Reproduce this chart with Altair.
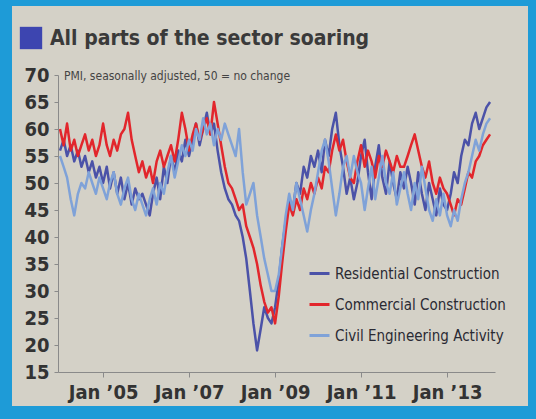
import altair as alt
import pandas as pd

# ---- data (monthly PMI readings, Jan 2004 – Jan 2014) ----
start_month = "2004-01-01"
n_months = 121

residential = [
    56, 58, 55, 57, 54, 56, 53, 55, 52, 54, 51, 53,
    50, 53, 49, 52, 48, 51, 47, 50, 46, 49, 47, 48,
    46, 44, 48, 51, 47, 53, 50, 55, 52, 56, 54, 58,
    55, 58, 61, 57, 60, 63, 59, 61, 56, 52, 49, 47,
    46, 44, 43, 40, 36, 30, 24, 19, 23, 27, 25, 24,
    27, 32, 38, 43, 47, 45, 50, 48, 53, 51, 55, 53,
    56, 52, 58, 55, 60, 63, 57, 53, 48, 51, 47, 50,
    55, 58, 52, 47, 53, 57, 51, 48, 54, 50, 47, 52,
    49, 53, 50, 46, 52, 48, 45, 50, 47, 44, 49, 46,
    45, 48, 52, 50, 55, 58, 57, 61, 63, 60, 62, 64,
    65,
]
commercial = [
    60, 57, 61, 56, 58, 55, 57, 59, 56, 58, 55, 57,
    61, 57, 55, 58, 56, 59, 60, 63, 58, 55, 52, 54,
    51, 53, 50, 54, 56, 53, 55, 57, 54, 58, 63, 60,
    56, 59, 61, 58, 60, 62, 59, 65, 61, 57, 53, 50,
    49, 47, 45, 46, 42, 40, 38, 35, 31, 28, 26, 27,
    24, 29, 35, 41, 46, 44, 47, 45, 49, 47, 50, 48,
    51, 49, 53, 52, 56, 59, 56, 58, 54, 51, 50, 54,
    57, 53, 56, 54, 51, 55, 53, 56, 54, 52, 55, 53,
    53, 55, 57, 59, 56, 53, 51, 54, 50, 48, 51, 49,
    48, 46, 44, 47, 46, 49, 52, 51, 54, 55, 57, 58,
    59,
]
civil = [
    55, 53, 51, 47, 44, 48, 50, 49, 52, 50, 48, 51,
    49, 47, 50, 52, 48, 46, 49, 51, 47, 45, 48, 46,
    44, 47, 49, 46, 50, 48, 52, 55, 51, 54, 57, 55,
    58, 56, 60, 58, 62, 59, 61, 57, 60, 58, 61, 59,
    57, 55, 60, 52, 46, 48, 50, 44, 40, 36, 33, 30,
    30, 33, 38, 44, 48, 45, 50, 47, 44, 41, 45, 48,
    52, 56, 58, 54, 49, 44, 48, 53, 55, 51, 55, 52,
    50, 45, 49, 53, 47, 51, 55, 50, 48, 52, 46, 49,
    52, 48, 45, 50, 47, 53, 49, 45, 43, 47, 44, 48,
    44, 42, 45, 43, 47, 50, 52, 55, 58, 56, 59, 61,
    62,
]

series_names = ["Residential Construction", "Commercial Construction", "Civil Engineering Activity"]
series_colors = ["#4b52a8", "#e2262c", "#7fa2d8"]
y_ticks = [15, 20, 25, 30, 35, 40, 45, 50, 55, 60, 65, 70]
x_tick_years = [2005, 2007, 2009, 2011, 2013]
title_text = "All parts of the sector soaring"
subtitle_text = "PMI, seasonally adjusted, 50 = no change"

# ---- build table ----
months = pd.date_range(start_month, periods=n_months, freq="MS")
df = pd.DataFrame({
    "date": list(months) * 3,
    "value": residential + commercial + civil,
    "series": [series_names[0]] * n_months + [series_names[1]] * n_months + [series_names[2]] * n_months,
})

NARROW = "Liberation Sans Narrow, DejaVu Sans Condensed, Liberation Sans, sans-serif"
W, H = 437, 297
one = alt.Data(values=[{}])

x_scale = alt.Scale(domain=[alt.DateTime(year=2003, month=12, date=15),
                            alt.DateTime(year=2014, month=2, date=12)])

lines = alt.Chart(df).mark_line(strokeWidth=2.5, strokeJoin="round").encode(
    x=alt.X("date:T", scale=x_scale,
            axis=alt.Axis(values=[alt.DateTime(year=y, month=1, date=1) for y in x_tick_years],
                          format="Jan \u2019%y", title=None, grid=False, zindex=1,
                          labelFont=NARROW, labelFontWeight="bold", labelFontSize=20,
                          labelColor="#333333", tickSize=5, tickColor="#8a8a8a",
                          domainColor="#8a8a8a", labelPadding=5, labelFlush=False,
                          labelOverlap=False)),
    y=alt.Y("value:Q", scale=alt.Scale(domain=[15, 70], nice=False, zero=False),
            axis=alt.Axis(values=y_ticks, title=None, grid=False, zindex=1,
                          labelFont=NARROW, labelFontWeight="bold", labelFontSize=20,
                          labelColor="#333333", tickSize=4, tickColor="#8a8a8a",
                          domainColor="#8a8a8a", labelPadding=5, labelFlush=False,
                          labelOverlap=False)),
    color=alt.Color("series:N",
                    scale=alt.Scale(domain=series_names, range=series_colors),
                    legend=alt.Legend(orient="none", legendX=250, legendY=187, title=None,
                                      symbolType="stroke", symbolSize=400,
                                      symbolStrokeWidth=3, labelFont=NARROW,
                                      labelFontSize=15, labelColor="#2a2a33",
                                      labelLimit=0, rowPadding=11, labelOffset=4,
                                      padding=0, zindex=1)),
)

paper = alt.Chart(one).mark_rect(color="#d4d1c7").encode(
    x=alt.value(-46), x2=alt.value(470), y=alt.value(-69), y2=alt.value(331))

square = alt.Chart(one).mark_square(color="#3d45b0", size=500, opacity=1).encode(
    x=alt.value(-27), y=alt.value(-37))

title = alt.Chart(one).mark_text(
    text=title_text, align="left", baseline="middle", font=NARROW,
    fontWeight="bold", fontSize=21, color="#3a3a3a").encode(
    x=alt.value(-8), y=alt.value(-36))

subtitle = alt.Chart(one).mark_text(
    text=subtitle_text, align="left", baseline="middle", font=NARROW,
    fontSize=12, color="#444444").encode(
    x=alt.value(6), y=alt.value(1))

chart = alt.layer(paper, square, title, subtitle, lines).properties(
    width=W, height=H,
    padding={"left": 58, "top": 75, "right": 41, "bottom": 47},
    autosize=alt.AutoSizeParams(type="none"),
    background="#1e9bd7",
).configure_view(stroke=None)

chart.save("out.html", embed_options={"renderer": "svg", "actions": False})
